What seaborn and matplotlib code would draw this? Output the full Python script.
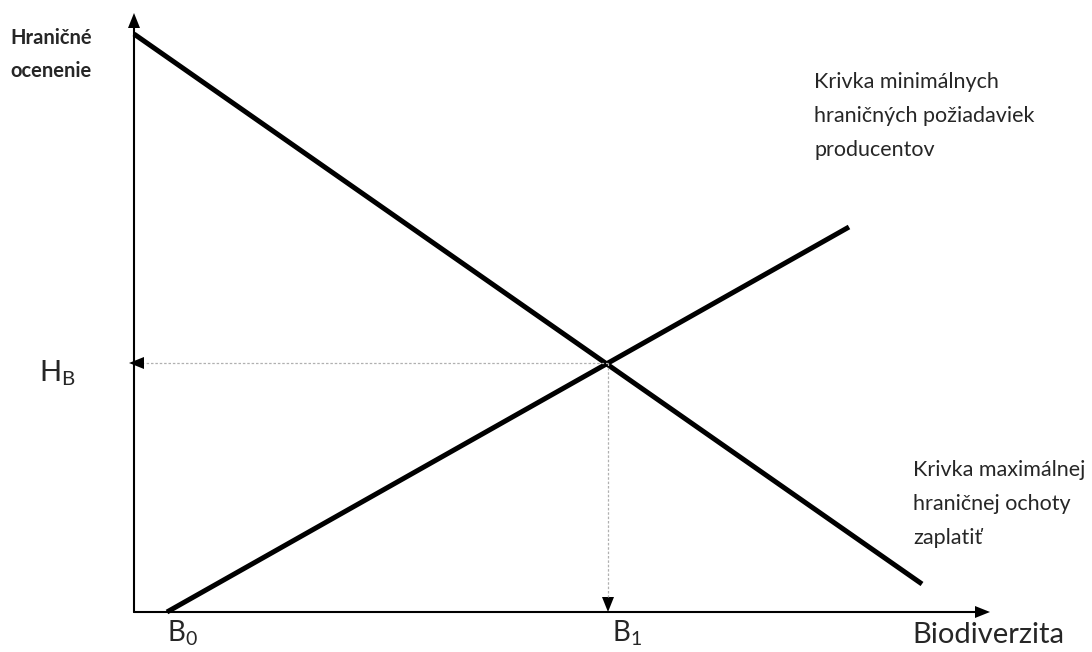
import pandas as pd
import matplotlib.pyplot as plt
import seaborn as sns

# data (jednotky ~ pixely od pociatku osi)
dopyt_x = [0, 788]
dopyt_y = [578, 28]
ponuka_x = [33, 715]
ponuka_y = [0, 385]
rovnovaha_x = 474
rovnovaha_y = 249
os_x_max = 856
os_y_max = 599

popis_y = ["Hraničné", "ocenenie"]
popis_x = "Biodiverzita"
popis_ponuka = ["Krivka minimálnych", "hraničných požiadaviek", "producentov"]
popis_dopyt = ["Krivka maximálnej", "hraničnej ochoty", "zaplatiť"]

sns.set_theme(style="white")
plt.rcParams["font.family"] = ["Lato", "DejaVu Sans"]
plt.rcParams["mathtext.fontset"] = "custom"
plt.rcParams["mathtext.rm"] = "Lato"
plt.rcParams["mathtext.it"] = "Lato"

df = pd.concat([
    pd.DataFrame({"x": dopyt_x, "y": dopyt_y, "krivka": "dopyt"}),
    pd.DataFrame({"x": ponuka_x, "y": ponuka_y, "krivka": "ponuka"}),
])

fig = plt.figure(figsize=(10.92, 6.52), dpi=100)
ax = fig.add_axes([0, 0, 1, 1])
sns.lineplot(data=df, x="x", y="y", units="krivka", estimator=None,
             color="black", lw=3.6, ax=ax, sort=False, legend=False)
for l in ax.lines:
    l.set_solid_capstyle("butt")

# osi
ax.plot([0, os_x_max - 10], [0, 0], color="black", lw=1.5)
ax.plot([0, 0], [0, os_y_max - 10], color="black", lw=1.5)
hl, hw = 15, 12
ax.arrow(os_x_max - hl, 0, hl, 0, width=0, head_width=hw, head_length=hl,
         length_includes_head=True, color="black", lw=0)
ax.arrow(0, os_y_max - hl, 0, hl, width=0, head_width=hw, head_length=hl,
         length_includes_head=True, color="black", lw=0)

# pomocne ciary
siva = "#b0b0b0"
ax.plot([rovnovaha_x, -5 + hl], [rovnovaha_y, rovnovaha_y], color=siva, lw=0.9, ls=(0, (2, 1.5)))
ax.plot([rovnovaha_x, rovnovaha_x], [rovnovaha_y, hl], color=siva, lw=0.9, ls=(0, (2, 1.5)))
ax.arrow(-5 + hl, rovnovaha_y, -hl, 0, width=0, head_width=hw, head_length=hl,
         length_includes_head=True, color="black", lw=0)
ax.arrow(rovnovaha_x, hl, 0, -hl, width=0, head_width=hw, head_length=hl,
         length_includes_head=True, color="black", lw=0)

# texty
for i, t in enumerate(popis_y):
    ax.text(-124, 568 - i * 33, t, fontsize=14.5, fontweight="bold", va="baseline")
for i, t in enumerate(popis_ponuka):
    ax.text(680, 524 - i * 34, t, fontsize=15.5, va="baseline")
for i, t in enumerate(popis_dopyt):
    ax.text(779, 136 - i * 34, t, fontsize=15.5, va="baseline")

ax.text(-95, 230, r"H$_\mathrm{B}$", fontsize=21, va="baseline")
ax.text(33, -30, r"B$_\mathrm{0}$", fontsize=20, va="baseline")
ax.text(478, -30, r"B$_\mathrm{1}$", fontsize=20, va="baseline")
ax.text(778, -31, popis_x, fontsize=21, va="baseline")

ax.set_xlim(-134, 958)
ax.set_ylim(-40, 612)
ax.set_axis_off()

plt.savefig("out.png", dpi=100)
plt.close()
